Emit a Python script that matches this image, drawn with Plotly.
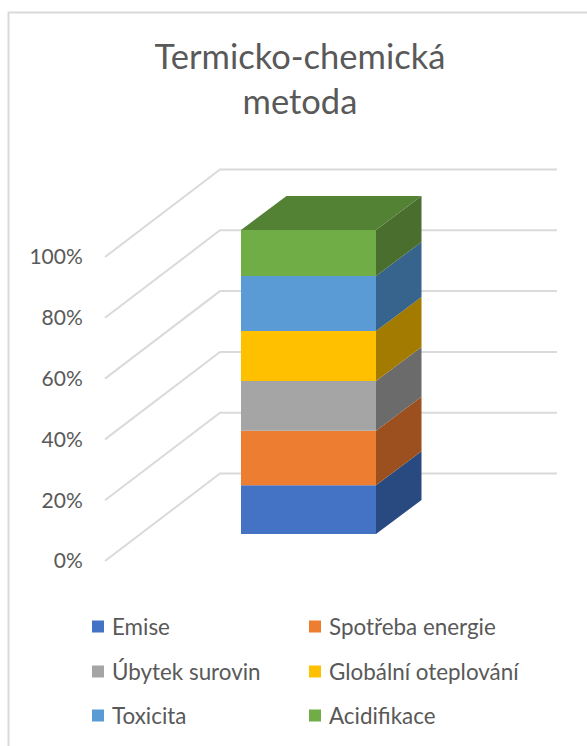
import plotly.graph_objects as go

# --- chart data ---
title_lines = ["Termicko-chemická", "metoda"]
series_names = ["Emise", "Spotřeba energie", "Úbytek surovin", "Globální oteplování", "Toxicita", "Acidifikace"]
series_values = [16.0, 18.0, 16.3, 16.5, 18.1, 15.1]
front_colors = ["#4472C4", "#ED7D31", "#A5A5A5", "#FFC000", "#5B9BD5", "#70AD47"]
side_colors = ["#294A80", "#9C501F", "#6B6B6B", "#A37B00", "#37648C", "#4A6E2D"]
top_color = "#548235"
tick_values = [0, 20, 40, 60, 80, 100]
tick_labels = ["0%", "20%", "40%", "60%", "80%", "100%"]

# --- geometry (x axis is in picture units, y axis in percent) ---
W, H = 587, 746
PX_PER_PCT = 3.04
ZERO_PX = 561.0
def pct(px_rise):
    return px_rise / PX_PER_PCT

WALL_X0, WALL_X1, WALL_X2 = 105, 220, 557
WALL_RISE = pct(87.5)
BAR_X0, BAR_X1 = 241, 376
BAR_CENTER = (BAR_X0 + BAR_X1) / 2
BAR_WIDTH = BAR_X1 - BAR_X0
BAR_BASE = pct(27)
DEPTH_X, DEPTH_RISE = 45.5, pct(34)

fig = go.Figure()

# front faces: stacked through explicit base; each entry has its own legend box
cum = 0.0
levels = [0.0]
for i, (name, v, c) in enumerate(zip(series_names, series_values, front_colors)):
    fig.add_trace(go.Bar(
        x=[BAR_CENTER], y=[v], base=[BAR_BASE + cum], width=[BAR_WIDTH],
        name=name, marker=dict(color=c, line=dict(width=0)),
        legend="legend" if i == 0 else f"legend{i + 1}",
    ))
    cum += v
    levels.append(cum)

# side faces
for i, c in enumerate(side_colors):
    lo = BAR_BASE + levels[i]
    hi = BAR_BASE + levels[i + 1]
    fig.add_trace(go.Scatter(
        x=[BAR_X1, BAR_X1 + DEPTH_X, BAR_X1 + DEPTH_X, BAR_X1, BAR_X1],
        y=[lo, lo + DEPTH_RISE, hi + DEPTH_RISE, hi, lo],
        mode="lines", fill="toself", fillcolor=c, line=dict(width=0),
        showlegend=False, hoverinfo="skip",
    ))

# top face
top = BAR_BASE + levels[-1]
fig.add_trace(go.Scatter(
    x=[BAR_X0, BAR_X1, BAR_X1 + DEPTH_X, BAR_X0 + DEPTH_X, BAR_X0],
    y=[top, top, top + DEPTH_RISE, top + DEPTH_RISE, top],
    mode="lines", fill="toself", fillcolor=top_color, line=dict(width=0),
    showlegend=False, hoverinfo="skip",
))

# gridlines on side wall and back wall
shapes = []
for t in tick_values:
    back = t + WALL_RISE
    shapes.append(dict(
        type="path", layer="below", xref="x", yref="y",
        path=f"M {WALL_X0} {t} L {WALL_X1} {back} L {WALL_X2} {back}",
        line=dict(color="#DADADA", width=2),
    ))

# chart frame
y_of_px = lambda px: (ZERO_PX - px) / PX_PER_PCT
shapes.append(dict(
    type="path", layer="below", xref="x", yref="y",
    path=f"M {W + 5} {y_of_px(12.5)} L 8.5 {y_of_px(12.5)} L 8.5 {y_of_px(H + 5)}",
    line=dict(color="#DADADA", width=2),
))

legend_font = dict(family="Lato, 'Open Sans', sans-serif", size=22.4, color="#595959")
LEGEND_COLS = [72, 289]
LEGEND_ROWS = [627, 672, 716]
legends = {}
for i in range(len(series_names)):
    key = "legend" if i == 0 else f"legend{i + 1}"
    legends[key] = dict(
        x=LEGEND_COLS[i % 2] / W, xanchor="left",
        y=1 - LEGEND_ROWS[i // 2] / H, yanchor="middle",
        font=legend_font, bgcolor="rgba(0,0,0,0)", borderwidth=0,
    )

fig.update_layout(
    width=W, height=H, autosize=False,
    margin=dict(l=0, r=0, t=0, b=0, autoexpand=False),
    paper_bgcolor="white", plot_bgcolor="white",
    title=dict(
        text="<br>".join(title_lines), x=0.511, xanchor="center",
        y=1 - 69 / H, yanchor="top",
        font=dict(family="Lato, 'Open Sans', sans-serif", size=34.5, color="#595959"),
    ),
    xaxis=dict(range=[0, W], visible=False, fixedrange=True),
    yaxis=dict(
        range=[y_of_px(H), y_of_px(0)], anchor="free", position=WALL_X0 / W, side="left",
        tickvals=tick_values, ticktext=tick_labels, ticks="outside", ticklen=18,
        tickcolor="rgba(0,0,0,0)", showgrid=False, zeroline=False, showline=False,
        tickfont=dict(family="Lato, 'Open Sans', sans-serif", size=21, color="#595959"),
        fixedrange=True,
    ),
    barmode="overlay",
    shapes=shapes,
    showlegend=True,
    **legends,
)

post = """
document.body.style.margin = '0';
document.querySelectorAll('.legendsymbols').forEach(function (g) {
  g.setAttribute('transform', 'translate(6,0)');
});
"""
fig.write_html("out.html", config=dict(displayModeBar=False), post_script=post)
